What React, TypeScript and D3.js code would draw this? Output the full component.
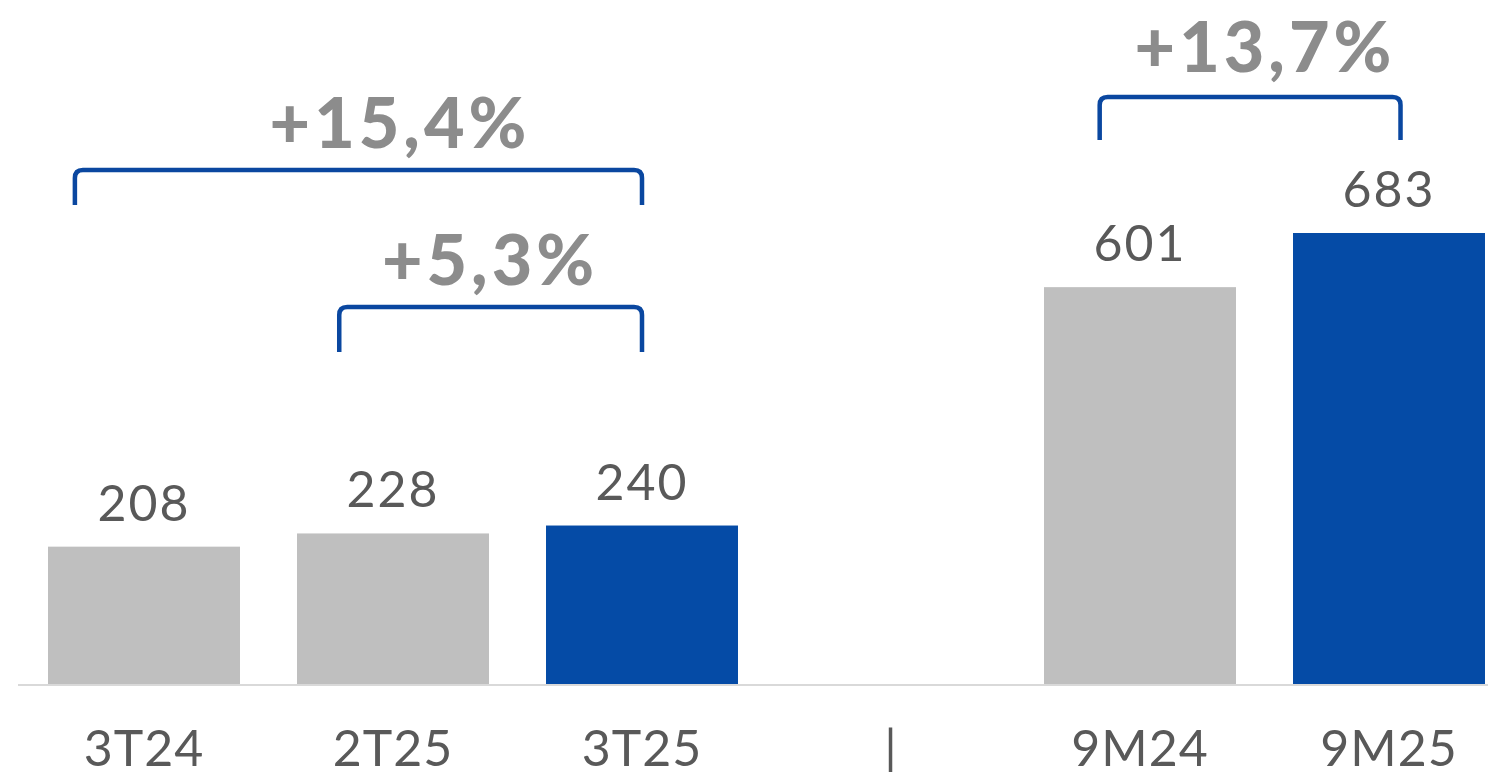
import { useRef, useEffect } from 'react';
import * as d3 from 'd3';

const CATEGORIES = ['3T24', '2T25', '3T25', '|', '9M24', '9M25'];
const VALUES: (number | null)[] = [208, 228, 240, null, 601, 683];
const HIGHLIGHT = [false, false, true, false, false, true];

// growth brackets: from/to category, label, offsets within bands
const BRACKETS = [
  { from: '3T24', to: '3T25', label: '+15,4%', top: 170, bottom: 205, fromOff: 0.14, toOff: 0.5, labelX: 400, labelY: 148 },
  { from: '2T25', to: '3T25', label: '+5,3%', top: 307, bottom: 352, fromOff: 0.22, toOff: 0.5, labelX: 490, labelY: 285 },
  { from: '9M24', to: '9M25', label: '+13,7%', top: 97, bottom: 140, fromOff: 0.29, toOff: 0.56, labelX: 1265, labelY: 72 },
];

const W = 1488;
const H = 772;
const GREY = '#bfbfbf';
const BLUE = '#054ba6';
const FONT = 'Lato, "DejaVu Sans", sans-serif';

export default function App() {
  const ref = useRef<SVGSVGElement | null>(null);

  useEffect(() => {
    const svg = d3.select(ref.current);
    svg.selectAll('*').remove();

    const baseline = 684;
    const x = d3.scaleBand<string>()
      .domain(CATEGORIES)
      .range([19.5, 1513.5])
      .paddingInner(0.229)
      .paddingOuter(0.1145);
    const y = d3.scaleLinear().domain([0, 683]).range([baseline, 233]);

    // bars
    CATEGORIES.forEach((c, i) => {
      const v = VALUES[i];
      if (v == null) return;
      svg.append('rect')
        .attr('x', x(c)!)
        .attr('y', y(v))
        .attr('width', x.bandwidth())
        .attr('height', baseline - y(v))
        .attr('fill', HIGHLIGHT[i] ? BLUE : GREY);
      svg.append('text')
        .attr('x', x(c)! + x.bandwidth() / 2)
        .attr('y', y(v) - 26)
        .attr('text-anchor', 'middle')
        .attr('font-family', FONT)
        .attr('font-size', 50)
        .attr('letter-spacing', 2)
        .attr('fill', '#595959')
        .text(v);
    });

    // axis line
    svg.append('line')
      .attr('x1', 18).attr('x2', W)
      .attr('y1', baseline + 1).attr('y2', baseline + 1)
      .attr('stroke', '#d9d9d9').attr('stroke-width', 2);

    // category labels
    CATEGORIES.forEach((c) => {
      svg.append('text')
        .attr('x', x(c)! + x.bandwidth() / 2)
        .attr('y', 766)
        .attr('text-anchor', 'middle')
        .attr('font-family', FONT)
        .attr('font-size', 50)
        .attr('letter-spacing', 1)
        .attr('fill', '#595959')
        .text(c);
    });

    // brackets
    const r = 8;
    BRACKETS.forEach((b) => {
      const x0 = x(b.from)! + x.bandwidth() * b.fromOff;
      const x1 = x(b.to)! + x.bandwidth() * b.toOff;
      const p = d3.path();
      p.moveTo(x0, b.bottom);
      p.lineTo(x0, b.top + r);
      p.quadraticCurveTo(x0, b.top, x0 + r, b.top);
      p.lineTo(x1 - r, b.top);
      p.quadraticCurveTo(x1, b.top, x1, b.top + r);
      p.lineTo(x1, b.bottom);
      svg.append('path')
        .attr('d', p.toString())
        .attr('fill', 'none')
        .attr('stroke', '#0a47a0')
        .attr('stroke-width', 4.5);
      svg.append('text')
        .attr('x', b.labelX)
        .attr('y', b.labelY)
        .attr('text-anchor', 'middle')
        .attr('font-family', FONT)
        .attr('font-weight', 900)
        .attr('font-size', 70)
        .attr('letter-spacing', 4)
        .attr('fill', '#8c8c8c')
        .text(b.label);
    });
  }, []);

  return (
    <svg
      ref={ref}
      width={W}
      height={H}
      style={{ position: 'absolute', left: 0, top: 0, background: '#fff' }}
    />
  );
}
